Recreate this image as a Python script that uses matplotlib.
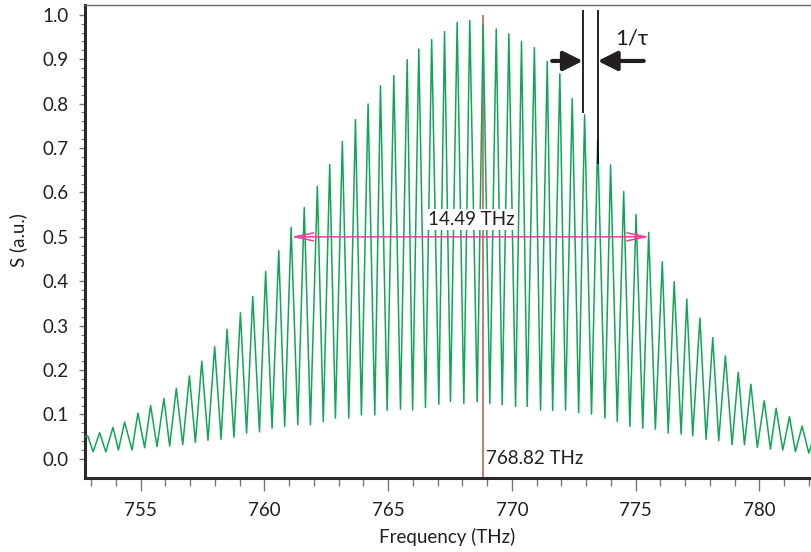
import numpy as np
import matplotlib
matplotlib.use("Agg")
import matplotlib.pyplot as plt

# ── Data ──────────────────────────────────────────────────────────────────────
# fringe maxima (THz, a.u.)
peak_freq = [752.86, 753.34, 753.88, 754.35, 754.89, 755.40, 755.94, 756.44, 756.97, 757.47,
             757.99, 758.49, 759.03, 759.53, 760.05, 760.58, 761.08, 761.61, 762.14, 762.64,
             763.15, 763.68, 764.19, 764.69, 765.23, 765.77, 766.24, 766.76, 767.28, 767.79,
             768.30, 768.84, 769.37, 769.88, 770.39, 770.91, 771.43, 771.94, 772.44, 772.94,
             773.47, 773.99, 774.52, 775.02, 775.53, 776.08, 776.56, 777.07, 777.60, 778.12,
             778.63, 779.15, 779.66, 780.20, 780.68, 781.22, 781.73]
peak_val = [0.052, 0.059, 0.071, 0.083, 0.103, 0.120, 0.136, 0.159, 0.187, 0.220,
            0.253, 0.292, 0.329, 0.366, 0.422, 0.469, 0.521, 0.566, 0.614, 0.663,
            0.715, 0.764, 0.799, 0.840, 0.863, 0.899, 0.923, 0.944, 0.962, 0.983,
            0.987, 0.977, 0.968, 0.957, 0.940, 0.926, 0.895, 0.867, 0.811, 0.775,
            0.718, 0.662, 0.602, 0.550, 0.510, 0.444, 0.399, 0.360, 0.317, 0.273,
            0.232, 0.195, 0.168, 0.131, 0.114, 0.095, 0.074]

# fringe minima, each one following the maximum of the same index
trough_freq = [753.08, 753.59, 754.10, 754.65, 755.16, 755.66, 756.17, 756.70, 757.21, 757.72,
               758.25, 758.77, 759.28, 759.80, 760.31, 760.82, 761.35, 761.86, 762.38, 762.87,
               763.41, 763.92, 764.46, 764.96, 765.50, 765.99, 766.51, 767.05, 767.52, 768.06,
               768.60, 769.11, 769.61, 770.15, 770.62, 771.16, 771.65, 772.17, 772.70, 773.22,
               773.76, 774.26, 774.77, 775.29, 775.80, 776.32, 776.84, 777.31, 777.85, 778.36,
               778.90, 779.40, 779.92, 780.45, 780.95, 781.46, 782.00]
trough_val = [0.016, 0.016, 0.020, 0.020, 0.025, 0.028, 0.029, 0.032, 0.037, 0.042,
              0.044, 0.049, 0.058, 0.061, 0.069, 0.073, 0.077, 0.077, 0.084, 0.092,
              0.092, 0.099, 0.099, 0.109, 0.112, 0.110, 0.116, 0.123, 0.129, 0.125,
              0.129, 0.125, 0.122, 0.118, 0.118, 0.110, 0.109, 0.110, 0.104, 0.101,
              0.092, 0.084, 0.073, 0.069, 0.067, 0.058, 0.056, 0.052, 0.044, 0.041,
              0.032, 0.032, 0.026, 0.022, 0.020, 0.016, 0.013]

# first and last samples at the plot edges
edge_freq = [752.78, 782.13]
edge_val = [0.050, 0.036]

center_freq = 768.82        # THz
fwhm_left, fwhm_right = 761.08, 775.56
fwhm_level = 0.5
fwhm_label = "14.49 THz"
tau_left, tau_right = 772.87, 773.47   # neighbouring fringes marked 1/tau

x_ticks = [755, 760, 765, 770, 775, 780]
y_ticks = [0.0, 0.1, 0.2, 0.3, 0.4, 0.5, 0.6, 0.7, 0.8, 0.9, 1.0]

# ── Build the fringe trace ────────────────────────────────────────────────────
n = len(peak_freq)
freq = np.empty(2 * n + 2)
sig = np.empty(2 * n + 2)
freq[0], sig[0] = edge_freq[0], edge_val[0]
freq[1:-1:2], sig[1:-1:2] = peak_freq, peak_val
freq[2:-1:2], sig[2:-1:2] = trough_freq, trough_val
freq[-1], sig[-1] = edge_freq[1], edge_val[1]

# ── Figure ────────────────────────────────────────────────────────────────────
plt.rcParams["font.family"] = ["Lato", "DejaVu Sans"]
TXT = "#231f20"

fig = plt.figure(figsize=(8.12, 5.52), dpi=100)
ax = fig.add_axes([85 / 812, 74 / 552, 727 / 812, 473 / 552])
ax.set_xlim(752.75, 782.13)
ax.set_ylim(-0.043, 1.022)

ax.plot(freq, sig, color="#12a557", lw=1.1, zorder=3)

# centre frequency marker
ax.vlines(center_freq, -0.043, 1.0, color="#c47a74", lw=1.4, zorder=2)
ax.text(center_freq + 0.15, 0.0, f"{center_freq:.2f} THz", ha="left", va="center",
        fontsize=13.5, color=TXT)

# FWHM arrow
ax.annotate("", xy=(fwhm_left, fwhm_level), xytext=(fwhm_right, fwhm_level),
            arrowprops=dict(arrowstyle="<->,head_length=0.8,head_width=0.17",
                            mutation_scale=17, color="#e8409a", lw=1.1,
                            shrinkA=0, shrinkB=0), zorder=4)
ax.text((fwhm_left + fwhm_right) / 2 + 0.05, fwhm_level + 0.04, fwhm_label, ha="center",
        va="center", fontsize=13.5, color=TXT, zorder=5,
        bbox=dict(facecolor="white", edgecolor="none", pad=1.5))

# 1/tau marker
ax.vlines(tau_left, 0.779, 1.011, color="black", lw=1.2, zorder=4)
ax.vlines(tau_right, 0.664, 1.011, color="black", lw=1.2, zorder=4)
arrow_kw = dict(arrowstyle="-|>,head_length=0.9,head_width=0.45", mutation_scale=13,
                color="#231f20", lw=3, shrinkA=0, shrinkB=0)
ax.annotate("", xy=(tau_left, 0.896), xytext=(771.63, 0.896), arrowprops=arrow_kw, zorder=4)
ax.annotate("", xy=(tau_right, 0.896), xytext=(775.33, 0.896), arrowprops=arrow_kw, zorder=4)
ax.text(774.83, 0.946, "1/τ", ha="center", va="center", fontsize=16, color=TXT)

# axes styling
ax.set_xticks(x_ticks)
ax.set_xticks(np.arange(753, 783, 1), minor=True)
ax.set_yticks(y_ticks)
ax.set_yticks(np.arange(0.0, 1.01, 0.02), minor=True)
ax.set_yticklabels([f"{v:.1f}" for v in y_ticks])
ax.tick_params(axis="both", which="major", labelsize=13.5, labelcolor=TXT,
               color="#777777", width=1.0)
ax.tick_params(axis="x", which="major", length=9, pad=8)
ax.tick_params(axis="x", which="minor", length=6, color="#777777", width=1.0)
ax.tick_params(axis="y", which="major", length=4, pad=8)
ax.tick_params(axis="y", which="minor", length=3, color="#777777", width=0.8)

for side in ("left", "bottom"):
    ax.spines[side].set_linewidth(2.2)
    ax.spines[side].set_color("#2a2a2a")
ax.spines["top"].set_linewidth(1.0)
ax.spines["top"].set_color("#666666")
ax.spines["right"].set_visible(False)

fig.text(447 / 812, 1 - 537 / 552, "Frequency (THz)", ha="center", va="center",
         fontsize=13.5, color=TXT)
fig.text(18 / 812, 1 - 240 / 552, "S (a.u.)", ha="center", va="center",
         rotation=90, fontsize=13.5, color=TXT)

fig.savefig("out.png", dpi=100)
